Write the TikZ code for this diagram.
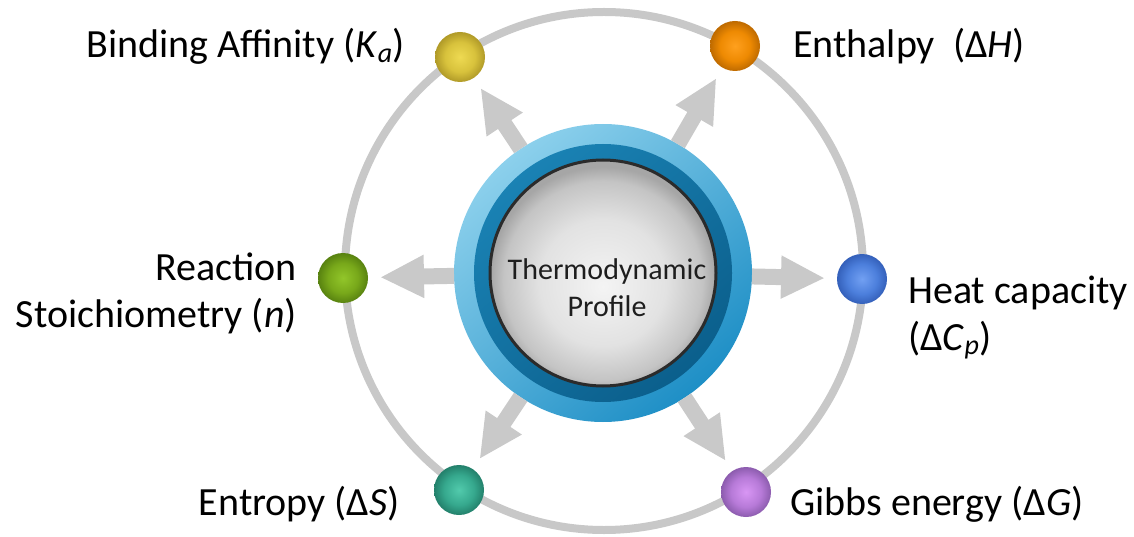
\documentclass[tikz,border=0pt]{standalone}
\usepackage{fontspec}
\setmainfont{Carlito}
\usetikzlibrary{arrows.meta}
\definecolor{ringgray}{HTML}{C8C8C8}
\definecolor{arrgray}{HTML}{C9C9C9}
\definecolor{bluelight}{HTML}{8CD0EC}
\definecolor{bluedark}{HTML}{1E8FC6}
\definecolor{dblueA}{HTML}{1A82B4}
\definecolor{dblueB}{HTML}{0B5F8C}
\definecolor{rimblack}{HTML}{2B2B2B}
\definecolor{textdark}{HTML}{1E1E1E}
\definecolor{grA}{HTML}{F4F4F4}
\definecolor{grB}{HTML}{E2E2E2}
\definecolor{grC}{HTML}{C4C4C4}
\definecolor{grD}{HTML}{A6A6A6}
\definecolor{yA}{HTML}{EEDA52}\definecolor{yB}{HTML}{D8C23C}\definecolor{yC}{HTML}{B09A28}
\definecolor{oA}{HTML}{FFA01E}\definecolor{oB}{HTML}{EE8A02}\definecolor{oC}{HTML}{BE6A00}
\definecolor{gA}{HTML}{92C62A}\definecolor{gB}{HTML}{78A81A}\definecolor{gC}{HTML}{588210}
\definecolor{bA}{HTML}{72A0F2}\definecolor{bB}{HTML}{4C7FDC}\definecolor{bC}{HTML}{3460BA}
\definecolor{tA}{HTML}{52CAAC}\definecolor{tB}{HTML}{36A98E}\definecolor{tC}{HTML}{23806B}
\definecolor{pA}{HTML}{D896F4}\definecolor{pB}{HTML}{B77AD8}\definecolor{pC}{HTML}{8C5CAE}
\newcommand\mkball[4]{\pgfdeclareradialshading{#1}{\pgfpoint{0bp}{0bp}}{color(0bp)=(#2); color(15bp)=(#3); color(25bp)=(#4); color(50bp)=(#4)}}
\mkball{ballY}{yA}{yB}{yC}
\mkball{ballO}{oA}{oB}{oC}
\mkball{ballG}{gA}{gB}{gC}
\mkball{ballB}{bA}{bB}{bC}
\mkball{ballT}{tA}{tB}{tC}
\mkball{ballP}{pA}{pB}{pC}
\pgfdeclareradialshading{discshade}{\pgfpoint{0bp}{-3bp}}{color(0bp)=(grA); color(14bp)=(grB); color(22bp)=(grC); color(25bp)=(grD); color(50bp)=(grD)}
\tikzset{
  ring/.style={draw=ringgray, line width=8pt},
  dot/.style={circle, minimum size=50pt, inner sep=0pt, outer sep=0pt, shade},
  bigarrow/.style={draw=arrgray, line width=16pt, -{Triangle[width=40pt,length=44pt]}, shorten >=12pt},
  lab/.style={font=\fontsize{40}{48}\selectfont, inner sep=0pt, text=black},
}
\begin{document}
\begin{tikzpicture}[x=1pt,y=-1pt]
\useasboundingbox (0,0) rectangle (1134,537);
\coordinate (O) at (603,273);
% outer ring
\draw[ring] (604,271) circle[radius=259];
% central badge
\shade[shading=axis, top color=bluelight, bottom color=bluedark, shading angle=40] (O) circle[radius=149];
\shade[shading=axis, top color=dblueA, bottom color=dblueB, shading angle=40] (O) circle[radius=129];
\shadedraw[draw=rimblack, line width=3pt, shading=discshade] (O) circle[radius=113];
\node[circle, minimum size=298pt, inner sep=0pt, outer sep=0pt] (C) at (O) {};
\node[font=\fontsize{30}{37}\selectfont, align=center, text=textdark, inner sep=0pt] (T) at (607,288) {Thermodynamic\\Profile};
% dots
\node[dot, shading=ballY] (Y) at (460,57) {};
\node[dot, shading=ballO] (Or) at (735,46) {};
\node[dot, shading=ballG] (G) at (343,278) {};
\node[dot, shading=ballB] (B) at (862,279) {};
\node[dot, shading=ballT] (Te) at (459,490) {};
\node[dot, shading=ballP] (P) at (746,492) {};
% arrows
\draw[bigarrow] (C) -- (Y);
\draw[bigarrow] (C) -- (Or);
\draw[bigarrow] (C) -- (G);
\draw[bigarrow] (C) -- (B);
\draw[bigarrow] (C) -- (Te);
\draw[bigarrow] (C) -- (P);
% labels
\node[lab, anchor=base east] (LY) at (405,58) {Binding Affinity (\textit{K}\textsubscript{\textit{a}})};
\node[lab, anchor=base west] (LO) at (793,58) {Enthalpy\ \ (Δ\textit{H})};
\node[lab, anchor=base east] (LG1) at (297,280) {Reaction};
\node[lab, anchor=base east] (LG2) at (297,327) {Stoichiometry (\textit{n})};
\node[lab, anchor=base west] (LB1) at (908,303) {Heat capacity};
\node[lab, anchor=base west] (LB2) at (908,350) {(Δ\textit{C}\textsubscript{\textit{p}})};
\node[lab, anchor=base east] (LT) at (400,515) {Entropy (Δ\textit{S})};
\node[lab, anchor=base west] (LP) at (790,515) {Gibbs energy (Δ\textit{G})};
\end{tikzpicture}
\end{document}
